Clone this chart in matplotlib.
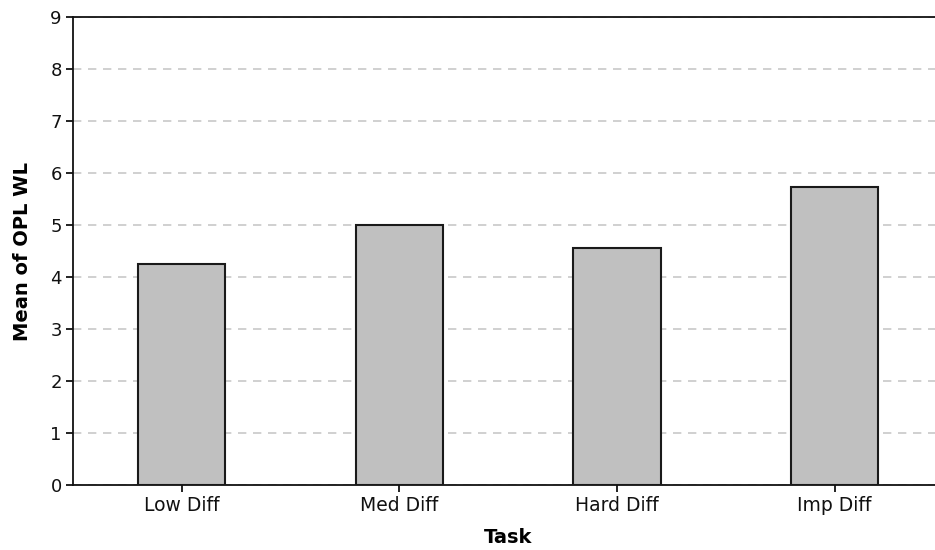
import matplotlib
matplotlib.use("Agg")
from matplotlib import pyplot as plt

# data
tasks = ["Low Diff", "Med Diff", "Hard Diff", "Imp Diff"]
means = [4.25, 5.0, 4.55, 5.73]
yticks = list(range(10))

fig = plt.figure(figsize=(9.35, 5.5), dpi=100)
# axes run slightly past the right edge like the original
ax = fig.add_axes([0.078, 0.118, 0.931, 0.851])

xpos = list(range(len(tasks)))
ax.bar(xpos, means, width=0.4, color="#c0c0c0", edgecolor="#1a1a1a",
       linewidth=1.5, zorder=3)

ax.set_xlim(-0.5, 3.5)
ax.set_ylim(0, 9)
ax.set_yticks(yticks)
ax.set_xticks(xpos)
ax.set_xticklabels(tasks)

ax.yaxis.grid(True, linestyle=(0, (5, 4)), color="#c8c8c8", linewidth=1.2, zorder=0)
ax.set_axisbelow(True)

for side in ["left", "bottom", "top"]:
    ax.spines[side].set_linewidth(1.3)
    ax.spines[side].set_color("#111111")
ax.spines["right"].set_visible(False)

ax.tick_params(axis="both", direction="out", length=5, width=1.3,
               labelsize=13, colors="#111111", pad=3)
ax.tick_params(axis="x", labelsize=13.5)

ax.set_xlabel("Task", fontsize=14, fontweight="bold", labelpad=9)
ax.set_ylabel("Mean of OPL WL", fontsize=14, fontweight="bold", labelpad=13)

fig.savefig("out.png", dpi=100)
